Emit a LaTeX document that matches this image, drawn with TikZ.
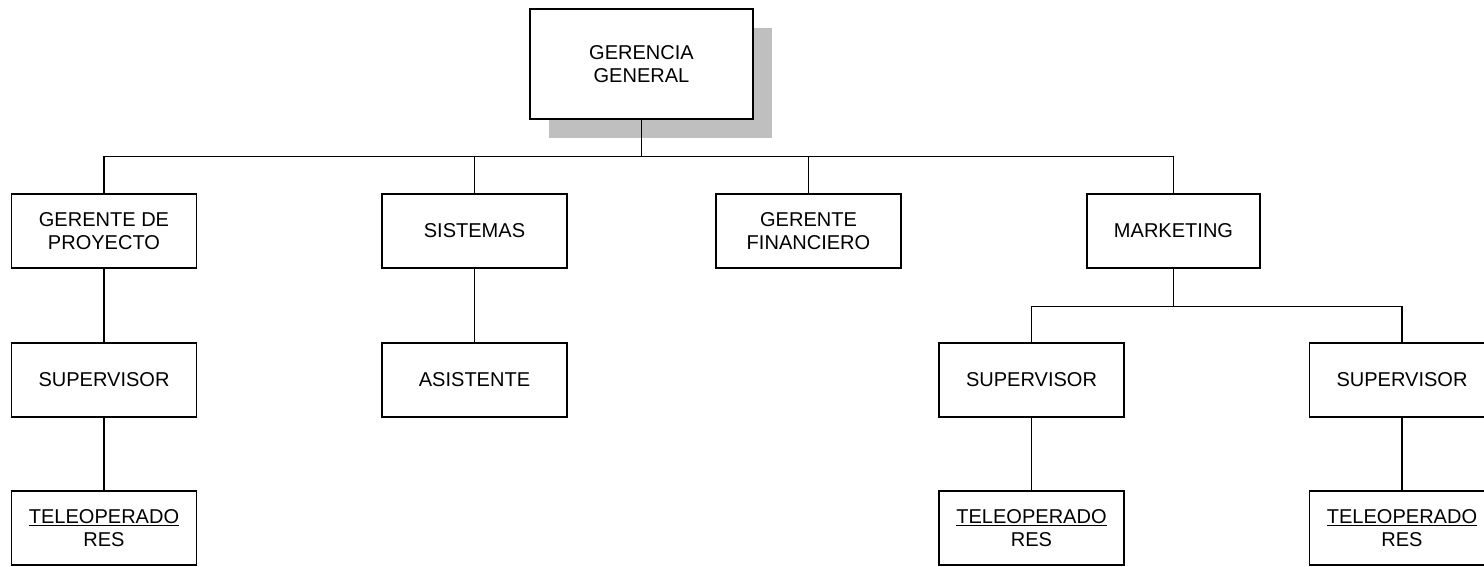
\documentclass[tikz,border=0pt]{standalone}
\usepackage{fontspec}
\setmainfont{Liberation Sans}
\usetikzlibrary{shadows}

\tikzset{
	unit/.style={rectangle, draw=black, line width=0.8pt, fill=white, align=center, inner sep=0pt, minimum width=3.7cm, minimum height=1.48cm, font=\fontsize{11.4}{13.4}\selectfont},
	link/.style={line width=0.8pt}
}

\begin{document}
\begin{tikzpicture}[x=0.02cm, y=-0.02cm]
	\useasboundingbox (0,0) rectangle (1484,566);
	\clip (0,0) rectangle (1484,566);

	% Top level
	\node[unit, minimum width=4.46cm, minimum height=2.2cm, drop shadow={shadow xshift=0.38cm, shadow yshift=-0.38cm, fill=black!25, opacity=1}] (gg) at (641.5,64) {GERENCIA\\GENERAL};

	% Second level
	\node[unit] (gp) at (104,231) {GERENTE DE\\PROYECTO};
	\node[unit] (sis) at (474.5,231) {SISTEMAS};
	\node[unit] (fin) at (808.5,231) {GERENTE\\FINANCIERO};
	\node[unit, minimum width=3.46cm] (mkt) at (1173.5,231) {MARKETING};

	% Third level
	\node[unit] (supa) at (104,380) {SUPERVISOR};
	\node[unit] (asis) at (474.5,380) {ASISTENTE};
	\node[unit] (supb) at (1031.5,380) {SUPERVISOR};
	\node[unit] (supc) at (1402,380) {SUPERVISOR};

	% Fourth level
	\node[unit] (tela) at (104,528) {\underline{TELEOPERADO}\\RES};
	\node[unit] (telb) at (1031.5,528) {\underline{TELEOPERADO}\\RES};
	\node[unit] (telc) at (1402,528) {\underline{TELEOPERADO}\\RES};

	% Connections
	\foreach \n in {gp,sis,fin,mkt} {
		\draw[link] (gg.south) -- ++(0,37) -| (\n.north);
	}
	\foreach \n in {supb,supc} {
		\draw[link] (mkt.south) -- ++(0,38) -| (\n.north);
	}
	\draw[link] (gp) -- (supa);
	\draw[link] (supa) -- (tela);
	\draw[link] (sis) -- (asis);
	\draw[link] (supb) -- (telb);
	\draw[link] (supc) -- (telc);
\end{tikzpicture}
\end{document}
